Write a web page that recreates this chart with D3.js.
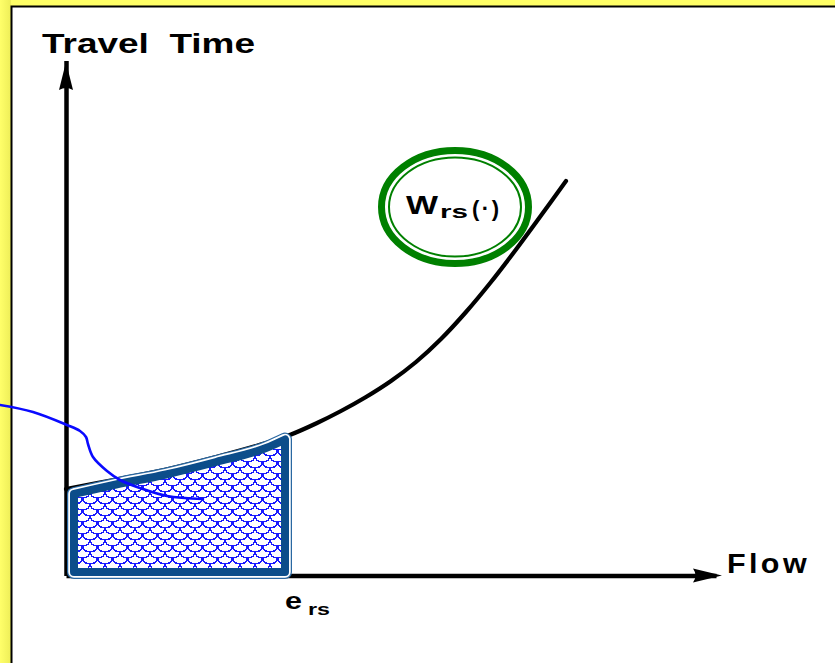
<!DOCTYPE html>
<html>
<head>
<meta charset="utf-8">
<script src="https://cdn.jsdelivr.net/npm/d3@7/dist/d3.min.js"></script>
<style>
  html, body { margin: 0; padding: 0; background: #ffff66; }
  svg { display: block; }
  text { font-family: "Liberation Sans", "DejaVu Sans", sans-serif; font-weight: bold; fill: #000; }
</style>
</head>
<body>
<svg id="chart" width="835" height="663"></svg>
<script>
// Link performance function W_rs(.) : travel time as a function of flow
const flow       = [0, 10, 20, 30, 40, 45, 50, 55, 60, 65, 70, 75, 80, 85, 90, 95, 100];
const travelTime = [17.3, 19.2, 21.2, 23.7, 26.5, 28.2, 30.4, 32.9, 35.7, 38.9, 42.7, 47.3, 52.7, 58.7, 65.2, 72.0, 78.9];

// Equilibrium flow e_rs: the area under W_rs up to it is shaded
const eRs = 45;

// Hand-drawn pointer stroke running into the shaded area
const pointerFlow = [-13.2, -6.6, 0.2, 2.8, 4.0, 4.4, 5.4, 8.2, 10.8, 14.8, 20.2, 27.4];
const pointerTime = [34.1, 32.7, 30.1, 28.9, 27.7, 26.3, 23.7, 20.9, 19.1, 17.5, 15.9, 15.3];

// Axis titles and labels
const yTitle = "Travel Time";
const xTitle = "Flow";
const curveLabel = { main: "W", sub: "rs", arg: "(·)" };
const eLabel = { main: "e", sub: "rs" };

const svg = d3.select("#chart");
const W = 835, H = 663;

const x = d3.scaleLinear().domain([0, 130]).range([66, 716]);
const y = d3.scaleLinear().domain([0, 103]).range([575.5, 60.5]);

const defs = svg.append("defs");

// faint shading on the left margin
const lg = defs.append("linearGradient").attr("id", "edge").attr("x1", 0).attr("x2", 1);
lg.append("stop").attr("offset", 0).attr("stop-color", "#ffff6a");
lg.append("stop").attr("offset", 1).attr("stop-color", "#eeee58");

// fish-scale hatch used inside the shaded area
const pat = defs.append("pattern")
  .attr("id", "scales")
  .attr("patternUnits", "userSpaceOnUse")
  .attr("width", 15).attr("height", 12);
pat.append("rect").attr("width", 15).attr("height", 12).attr("fill", "#fff");
pat.append("path")
  .attr("d", "M0,0 A7.5,6 0 0 0 15,0 M-7.5,6 A7.5,6 0 0 0 7.5,6 M7.5,6 A7.5,6 0 0 0 22.5,6 M0,12 A7.5,6 0 0 0 15,12")
  .attr("fill", "none")
  .attr("stroke", "#1a1aff")
  .attr("stroke-width", 1.4)
  .attr("shape-rendering", "crispEdges");

// page frame
svg.append("rect").attr("x", 0).attr("y", 0).attr("width", 11).attr("height", H).attr("fill", "url(#edge)");
svg.append("rect").attr("x", 11).attr("y", 6).attr("width", W - 11).attr("height", H - 6).attr("fill", "#fff");
svg.append("path")
  .attr("d", `M11.5,${H} L11.5,6.5 L${W},6.5`)
  .attr("fill", "none").attr("stroke", "#000").attr("stroke-width", 2);

// axes (no ticks, just the arrowed lines)
const xAxis = d3.axisBottom(x).tickValues([]).tickSizeOuter(0);
const yAxis = d3.axisLeft(y).tickValues([]).tickSizeOuter(0);
svg.append("g").attr("transform", `translate(0,${y(0)})`).call(xAxis)
  .select(".domain").attr("stroke", "#000").attr("stroke-width", 4.5);
svg.append("g").attr("transform", `translate(${x(0)},0)`).call(yAxis)
  .select(".domain").attr("stroke", "#000").attr("stroke-width", 4.5);

// arrowheads
const yTip = [x(0), 62], xTip = [722, y(0)];
svg.append("path")
  .attr("d", `M${yTip[0]},${yTip[1]} L${yTip[0] + 7},${yTip[1] + 28} Q${yTip[0]},${yTip[1] + 24} ${yTip[0] - 7},${yTip[1] + 28} Z`)
  .attr("fill", "#000");
svg.append("path")
  .attr("d", `M${xTip[0]},${xTip[1]} L${xTip[0] - 29},${xTip[1] - 7} Q${xTip[0] - 24},${xTip[1]} ${xTip[0] - 29},${xTip[1] + 7} Z`)
  .attr("fill", "#000");

// performance curve
const pts = flow.map((f, i) => ({ f, t: travelTime[i] }));
const line = d3.line().x(d => x(d.f)).y(d => y(d.t)).curve(d3.curveCatmullRom.alpha(0.5));
svg.append("path")
  .attr("d", line(pts))
  .attr("fill", "none").attr("stroke", "#000").attr("stroke-width", 4.2)
  .attr("stroke-linecap", "round");

// shaded area under the curve between 0 and e_rs
const leftX = x(0) + 8, rightX = x(eRs) - 6, bottomY = y(0) - 3.5;
const under = pts.filter(d => d.f <= eRs);
const topLine = d3.line()
  .x((d, i) => i === 0 ? leftX : (i === under.length - 1 ? rightX : x(d.f)))
  .y(d => y(d.t) + 5)
  .curve(d3.curveMonotoneX);
const regionD = topLine(under) + `L${rightX},${bottomY}L${leftX},${bottomY}Z`;

svg.append("path").attr("d", regionD)
  .attr("fill", "none").attr("stroke", "#2a68a2").attr("stroke-width", 14).attr("stroke-linejoin", "round");
svg.append("path").attr("d", regionD)
  .attr("fill", "none").attr("stroke", "#fff").attr("stroke-width", 11.5).attr("stroke-linejoin", "round");
svg.append("path").attr("d", regionD)
  .attr("fill", "url(#scales)").attr("stroke", "#0c4d8a").attr("stroke-width", 8).attr("stroke-linejoin", "round");

// pointer stroke
const pointer = pointerFlow.map((f, i) => ({ f, t: pointerTime[i] }));
svg.append("path")
  .attr("d", d3.line().x(d => x(d.f)).y(d => y(d.t)).curve(d3.curveCatmullRom)(pointer))
  .attr("fill", "none").attr("stroke", "#0a0aff").attr("stroke-width", 2.6)
  .attr("stroke-linecap", "round");

// curve label inside a double green ellipse
const lc = [x(77.8), y(73.7)];
svg.append("ellipse").attr("cx", lc[0]).attr("cy", lc[1]).attr("rx", 73.5).attr("ry", 56.5)
  .attr("fill", "none").attr("stroke", "#008000").attr("stroke-width", 7);
svg.append("ellipse").attr("cx", lc[0]).attr("cy", lc[1]).attr("rx", 66).attr("ry", 49.5)
  .attr("fill", "none").attr("stroke", "#008000").attr("stroke-width", 2);
svg.append("text").attr("x", 406).attr("y", 214).attr("font-size", 26)
  .attr("textLength", 32).attr("lengthAdjust", "spacingAndGlyphs").text(curveLabel.main);
svg.append("text").attr("x", 440).attr("y", 218).attr("font-size", 19)
  .attr("textLength", 28).attr("lengthAdjust", "spacingAndGlyphs").text(curveLabel.sub);
svg.append("text").attr("x", 472).attr("y", 216).attr("font-size", 22).attr("font-weight", "normal")
  .attr("letter-spacing", 2.5).text(curveLabel.arg);

// axis titles
svg.append("text").attr("x", 42).attr("y", 53).attr("font-size", 27)
  .attr("textLength", 213).attr("lengthAdjust", "spacingAndGlyphs")
  .attr("xml:space", "preserve").text(yTitle.replace(" ", "  "));
svg.append("text").attr("x", 727).attr("y", 573).attr("font-size", 27)
  .attr("textLength", 83).attr("lengthAdjust", "spacingAndGlyphs").attr("letter-spacing", 3).text(xTitle);

// e_rs label under the axis
svg.append("text").attr("x", 285).attr("y", 609).attr("font-size", 24)
  .attr("textLength", 17).attr("lengthAdjust", "spacingAndGlyphs").text(eLabel.main);
svg.append("text").attr("x", 308).attr("y", 615).attr("font-size", 17)
  .attr("textLength", 22).attr("lengthAdjust", "spacingAndGlyphs").text(eLabel.sub);
</script>
</body>
</html>
